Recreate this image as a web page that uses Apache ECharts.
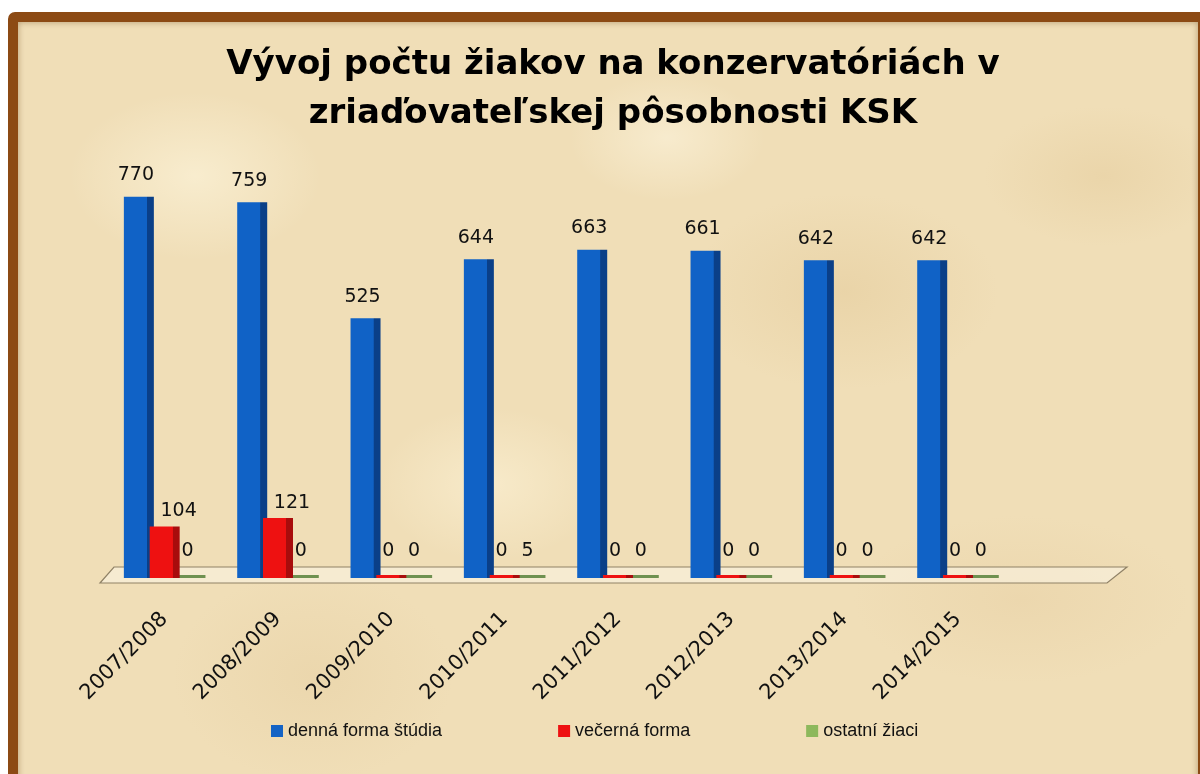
<!DOCTYPE html>
<html><head><meta charset="utf-8">
<script src="https://cdn.jsdelivr.net/npm/echarts@6/dist/echarts.min.js"></script>
<style>
html,body{margin:0;padding:0;width:1200px;height:774px;overflow:hidden;background:#fff;}
#paper{position:absolute;left:8px;top:12px;width:1200px;height:790px;box-sizing:border-box;border:10px solid #8C4A14;border-radius:7px;
background:
radial-gradient(ellipse 180px 120px at 15% 20%, rgba(255,248,225,0.55), transparent 70%),
radial-gradient(ellipse 220px 140px at 70% 35%, rgba(226,200,150,0.45), transparent 70%),
radial-gradient(ellipse 160px 110px at 40% 60%, rgba(255,246,220,0.5), transparent 70%),
radial-gradient(ellipse 240px 120px at 85% 75%, rgba(230,205,160,0.4), transparent 70%),
radial-gradient(ellipse 200px 150px at 25% 85%, rgba(228,204,158,0.4), transparent 70%),
radial-gradient(ellipse 140px 90px at 55% 15%, rgba(255,248,228,0.5), transparent 70%),
radial-gradient(ellipse 170px 100px at 92% 20%, rgba(226,200,150,0.4), transparent 70%),
#F0DEB7;
box-shadow: inset 0 0 6px rgba(90,50,10,0.4);}
#c{position:absolute;left:0;top:0;width:1200px;height:774px;}
</style></head>
<body><div id="paper"></div><div id="c"></div>
<script>
var categories = ['2007/2008','2008/2009','2009/2010','2010/2011','2011/2012','2012/2013','2013/2014','2014/2015'];
var dennaForma = [770,759,525,644,663,661,642,642];
var vecernaForma = [104,121,0,0,0,0,0,0];
var ostatniZiaci = [0,0,0,5,0,0,0,0];
var seriesNames = ['denná forma štúdia','večerná forma','ostatní žiaci'];

var chart = echarts.init(document.getElementById('c'), null, {renderer:'canvas'});

function grad(front, side){
  return new echarts.graphic.LinearGradient(0,0,1,0,[
    {offset:0,color:front},{offset:0.76,color:front},{offset:0.78,color:side},{offset:1,color:side}]);
}
function mk(arr, zeroDist, dist, offs){
  return arr.map(function(v){
    return {value:v, label:{distance: v===0 ? zeroDist : dist, offset: v===0 ? [-3,0] : offs}};
  });
}
var labelFont = {show:true, position:'top', color:'#111', fontFamily:'DejaVu Sans', fontSize:19};

chart.setOption({
  animation:false,
  title:{text:'Vývoj počtu žiakov na konzervatóriách v\nzriaďovateľskej pôsobnosti KSK', left:608, top:36, textAlign:'center',
    textStyle:{fontFamily:'DejaVu Sans', fontWeight:'bold', fontSize:34, lineHeight:49, color:'#000'}},
  legend:{bottom:29, left:266, itemGap:116, itemWidth:12, itemHeight:12, icon:'rect',
    textStyle:{fontFamily:'Liberation Sans', fontSize:18, color:'#111'},
    data:[{name:seriesNames[0], itemStyle:{color:'#1463C4'}},{name:seriesNames[1], itemStyle:{color:'#EE1111'}},{name:seriesNames[2], itemStyle:{color:'#8DB85C'}}]},
  grid:{left:108, right:72, top:83, bottom:196},
  xAxis:{type:'category', data:categories.concat(['']), axisTick:{show:false},
    axisLine:{show:false},
    axisLabel:{rotate:45, margin:38, interval:0, fontFamily:'DejaVu Sans', fontSize:21, color:'#111'}},
  yAxis:{type:'value', min:0, max:1000, show:false, splitLine:{show:false}},
  series:[
    {name:seriesNames[0], type:'bar', barWidth:30, barGap:'-14%', z:3,
     itemStyle:{color:grad('#1062C6','#0A3F88')},
     label:Object.assign({}, labelFont, {offset:[-3,0]}),
     data:mk(dennaForma, 24, 12, [-3,0])},
    {name:seriesNames[1], type:'bar', barWidth:30, barMinHeight:3, z:4,
     itemStyle:{color:grad('#EE1111','#A80C0C')},
     label:labelFont,
     data:mk(vecernaForma, 14, 6, [14,0])},
    {name:seriesNames[2], type:'bar', barWidth:30, barMinHeight:3, z:2,
     itemStyle:{color:'#6F9150'},
     label:labelFont,
     data:mk(ostatniZiaci, 14, 14, [-3,0])}
  ]
});

var rect = chart.getModel().getComponent('grid').coordinateSystem.getRect();
var fy = rect.y + rect.height;
var L = rect.x, R = rect.x + rect.width;
chart.setOption({graphic:[{type:'polygon', z:0, silent:true,
  shape:{points:[[L-8,fy+5],[L+6,fy-11],[R-1,fy-11],[R-21,fy+5]]},
  style:{fill:'rgba(252,246,232,0.55)', stroke:'#8F8166', lineWidth:1.2}}]});
</script>
</body></html>
